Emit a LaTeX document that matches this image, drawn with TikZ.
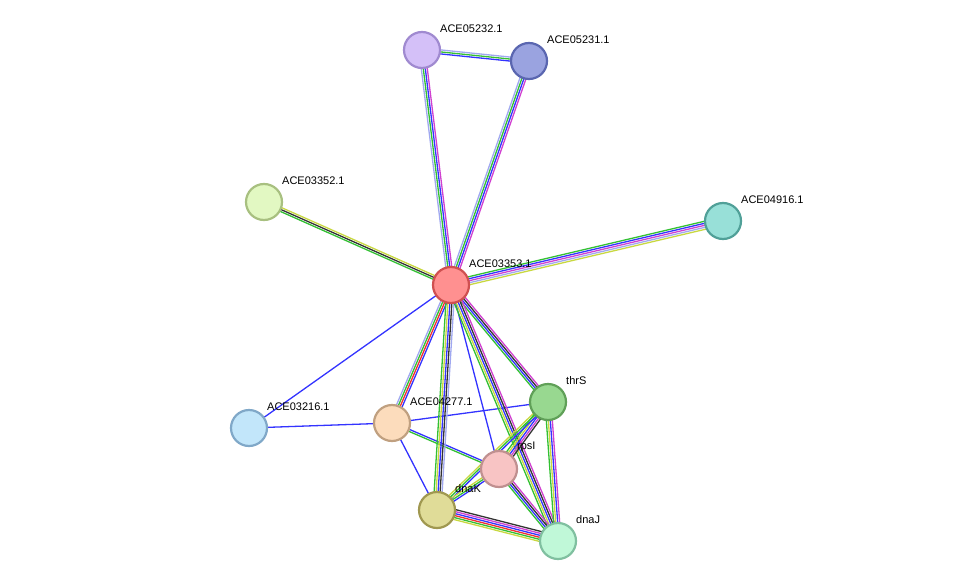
\documentclass[tikz,border=0pt]{standalone}
\usepackage{fontspec}
\setmainfont{Liberation Sans}
\usetikzlibrary{calc}
\definecolor{eg}{HTML}{33C033}
\definecolor{eb}{HTML}{3333FF}
\definecolor{em}{HTML}{D040D0}
\definecolor{el}{HTML}{A0A8F0}
\definecolor{ey}{HTML}{C8D840}
\definecolor{ek}{HTML}{333333}
\definecolor{er}{HTML}{F03030}
\definecolor{f1}{HTML}{D4C0F8}\definecolor{d1}{HTML}{A08AD0}
\definecolor{f2}{HTML}{9AA3E0}\definecolor{d2}{HTML}{5A66B0}
\definecolor{f3}{HTML}{E2F8C2}\definecolor{d3}{HTML}{A8C080}
\definecolor{f4}{HTML}{98E0D8}\definecolor{d4}{HTML}{50A098}
\definecolor{f5}{HTML}{FF9090}\definecolor{d5}{HTML}{D05050}
\definecolor{f6}{HTML}{C2E6FA}\definecolor{d6}{HTML}{80A8C8}
\definecolor{f7}{HTML}{FCDCBC}\definecolor{d7}{HTML}{C0A080}
\definecolor{f8}{HTML}{98D890}\definecolor{d8}{HTML}{60A058}
\definecolor{f9}{HTML}{F8C4C4}\definecolor{d9}{HTML}{C09090}
\definecolor{f10}{HTML}{E0DC98}\definecolor{d10}{HTML}{A09850}
\definecolor{f11}{HTML}{C0F8D8}\definecolor{d11}{HTML}{80C0A0}
\newcommand\myedge[4]{%
  \foreach \c [count=\i] in {#4}{%
    \pgfmathsetmacro\off{(\i-(#3+1)/2)*2.0}
    \draw[line width=1.3pt,draw=\c] ($(#1)!\off pt!90:(#2)$) -- ($(#2)!\off pt!-90:(#1)$);
  }}
\tikzset{prot/.style={circle,minimum size=36pt,inner sep=0pt,line width=2.2pt,fill=f#1,draw=d#1},
 lab/.style={font=\fontsize{11}{13}\selectfont,anchor=south west,inner sep=0pt}}
\begin{document}
\begin{tikzpicture}[x=1pt,y=-1pt]
\useasboundingbox (0,0) rectangle (976,586);
\coordinate (n1) at (422,50);
\coordinate (n2) at (529,61);
\coordinate (n3) at (264,202);
\coordinate (n4) at (723,221);
\coordinate (c) at (451,285);
\coordinate (n6) at (249,428);
\coordinate (n7) at (392,423);
\coordinate (t) at (548,402);
\coordinate (r) at (499,469);
\coordinate (k) at (437,510);
\coordinate (j) at (558,541);
\myedge{n1}{n2}{3}{eb,eg,el}
\myedge{n1}{c}{4}{el,eg,eb,em}
\myedge{n2}{c}{4}{el,eg,eb,em}
\myedge{n3}{c}{3}{eg,ek,ey}
\myedge{n4}{c}{5}{eg,eb,em,el,ey}
\myedge{n6}{c}{1}{eb}
\myedge{n6}{n7}{1}{eb}
\myedge{n7}{c}{4}{eb,er,eg,el}
\myedge{n7}{t}{1}{eb}
\myedge{n7}{r}{2}{eg,eb}
\myedge{n7}{k}{1}{eb}
\myedge{c}{t}{4}{eg,eb,ek,em}
\myedge{c}{r}{1}{eb}
\myedge{c}{k}{5}{eg,ey,eb,ek,el}
\myedge{c}{j}{5}{eg,ey,eb,ek,em}
\myedge{t}{r}{5}{eg,ey,eb,em,ek}
\myedge{t}{k}{3}{ey,eg,eb}
\myedge{t}{j}{4}{eg,ey,eb,em}
\myedge{r}{k}{3}{ey,eg,eb}
\myedge{r}{j}{4}{eg,eb,ek,em}
\myedge{k}{j}{6}{ey,eg,er,eb,em,ek}
\node[prot=1] (a1) at (n1) {};
\node[prot=2] (a2) at (n2) {};
\node[prot=3] (a3) at (n3) {};
\node[prot=4] (a4) at (n4) {};
\node[prot=5] (a5) at (c) {};
\node[prot=6] (a6) at (n6) {};
\node[prot=7] (a7) at (n7) {};
\node[prot=8] (a8) at (t) {};
\node[prot=9] (a9) at (r) {};
\node[prot=10] (a10) at (k) {};
\node[prot=11] (a11) at (j) {};
\node[lab] (l1) at ($(n1)+(18,-17)$) {ACE05232.1};
\node[lab] (l2) at ($(n2)+(18,-17)$) {ACE05231.1};
\node[lab] (l3) at ($(n3)+(18,-17)$) {ACE03352.1};
\node[lab] (l4) at ($(n4)+(18,-17)$) {ACE04916.1};
\node[lab] (l5) at ($(c)+(18,-17)$) {ACE03353.1};
\node[lab] (l6) at ($(n6)+(18,-17)$) {ACE03216.1};
\node[lab] (l7) at ($(n7)+(18,-17)$) {ACE04277.1};
\node[lab] (l8) at ($(t)+(18,-17)$) {thrS};
\node[lab] (l9) at ($(r)+(18,-17)$) {rpsI};
\node[lab] (l10) at ($(k)+(18,-17)$) {dnaK};
\node[lab] (l11) at ($(j)+(18,-17)$) {dnaJ};
\end{tikzpicture}
\end{document}
